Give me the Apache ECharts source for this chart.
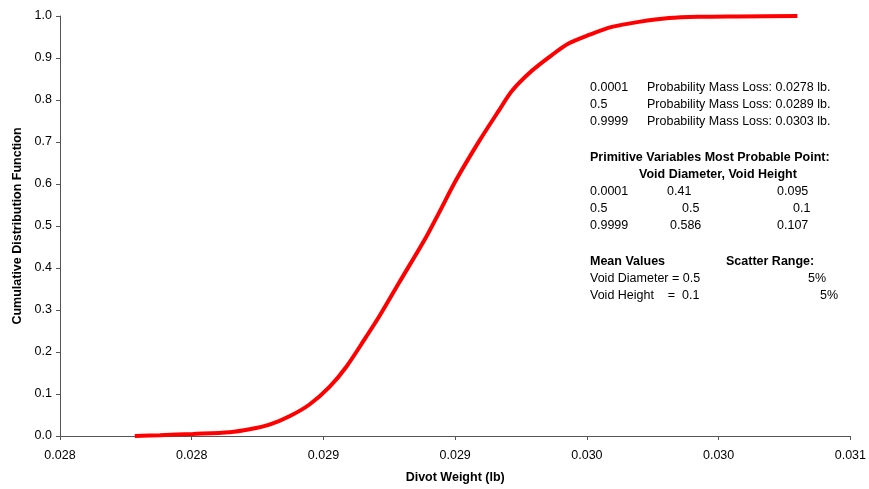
<!DOCTYPE html>
<html>
<head>
<meta charset="utf-8">
<script src="https://cdn.jsdelivr.net/npm/echarts@6/dist/echarts.min.js"></script>
<style>
  html, body { margin: 0; padding: 0; background: #fff; }
  #chart { width: 869px; height: 489px; }
</style>
</head>
<body>
<div id="chart"></div>
<script>
// Cumulative distribution of divot weight (lb)
const divotWeight = [
  0.028284, 0.028379, 0.028504, 0.028644, 0.028720, 0.028795, 0.028871,
  0.028947, 0.029023, 0.029087, 0.029163, 0.029212, 0.029288, 0.029390,
  0.029439, 0.029504, 0.029591, 0.029667, 0.029716, 0.029792, 0.029867,
  0.029932, 0.030008, 0.030095, 0.030197, 0.030311, 0.030424, 0.030576,
  0.030799
];
const cdf = [
  0.000, 0.002, 0.005, 0.009, 0.016, 0.027, 0.047,
  0.075, 0.117, 0.165, 0.237, 0.285, 0.366, 0.474,
  0.532, 0.610, 0.702, 0.776, 0.822, 0.870, 0.907,
  0.935, 0.955, 0.974, 0.986, 0.995, 0.998, 0.999,
  1.000
];

// Axis tick labels (three-decimal display of half-thousandth steps)
const xTickLabels = ['0.028', '0.028', '0.029', '0.029', '0.030', '0.030', '0.031'];
const xMin = 0.0280, xMax = 0.0310, xStep = 0.0005;

// Annotation text
const massLossLevels = ['0.0001', '0.5', '0.9999'];
const massLossText = [
  'Probability Mass Loss: 0.0278 lb.',
  'Probability Mass Loss: 0.0289 lb.',
  'Probability Mass Loss: 0.0303 lb.'
];
const mppTitle = 'Primitive Variables Most Probable Point:';
const mppSubtitle = 'Void Diameter, Void Height';
const mppLevels = ['0.0001', '0.5', '0.9999'];
const mppDiameter = ['0.41', '0.5', '0.586'];
const mppHeight = ['0.095', '0.1', '0.107'];
const meanTitle = 'Mean Values';
const scatterTitle = 'Scatter Range:';
const meanLines = ['Void Diameter = 0.5', 'Void Height    =  0.1'];
const scatterValues = ['5%', '5%'];

const FONT = '"Liberation Sans", Arial, sans-serif';
const FS = 12.5;
const chart = echarts.init(document.getElementById('chart'), null, { renderer: 'canvas' });

function txt(x, y, text, bold) {
  return {
    type: 'text', x: x, y: y,
    style: {
      text: text, font: (bold ? 'bold ' : '') + FS + 'px ' + FONT,
      fill: '#000', verticalAlign: 'middle', align: 'left'
    }
  };
}

const graphics = [];
massLossLevels.forEach((lv, i) => {
  graphics.push(txt(590, 88 + i * 17, lv));
  graphics.push(txt(647, 88 + i * 17, massLossText[i]));
});
graphics.push(txt(590, 158, mppTitle, true));
graphics.push(txt(639, 175, mppSubtitle, true));
const diaX = [667, 682, 670], hgtX = [777, 793, 777];
mppLevels.forEach((lv, i) => {
  graphics.push(txt(590, 192 + i * 17, lv));
  graphics.push(txt(diaX[i], 192 + i * 17, mppDiameter[i]));
  graphics.push(txt(hgtX[i], 192 + i * 17, mppHeight[i]));
});
graphics.push(txt(590, 262, meanTitle, true));
graphics.push(txt(726, 262, scatterTitle, true));
const scX = [808, 820];
meanLines.forEach((ln, i) => {
  graphics.push(txt(590, 279 + i * 17, ln));
  graphics.push(txt(scX[i], 279 + i * 17, scatterValues[i]));
});

chart.setOption({
  animation: false,
  backgroundColor: '#fff',
  grid: { left: 60, right: 17, top: 16, bottom: 52.5, containLabel: false },
  xAxis: {
    type: 'value', min: xMin, max: xMax, interval: xStep,
    name: 'Divot Weight (lb)', nameLocation: 'middle', nameGap: 35,
    nameTextStyle: { fontFamily: FONT, fontSize: FS, fontWeight: 'bold', color: '#000' },
    axisLine: { show: true, onZero: false, lineStyle: { color: '#555', width: 1 } },
    axisTick: { show: true, length: 4, lineStyle: { color: '#555' } },
    axisLabel: {
      fontFamily: FONT, fontSize: FS, color: '#000', margin: 13,
      formatter: v => xTickLabels[Math.round((v - xMin) / xStep)] || ''
    },
    splitLine: { show: false }
  },
  yAxis: {
    type: 'value', min: 0, max: 1, interval: 0.1,
    name: 'Cumulative Distribution Function', nameLocation: 'middle', nameGap: 36,
    nameTextStyle: { fontFamily: FONT, fontSize: FS, fontWeight: 'bold', color: '#000' },
    axisLine: { show: true, lineStyle: { color: '#555', width: 1 } },
    axisTick: { show: true, length: 4, lineStyle: { color: '#555' } },
    axisLabel: {
      fontFamily: FONT, fontSize: FS, color: '#000', margin: 8,
      formatter: v => v.toFixed(1)
    },
    splitLine: { show: false }
  },
  series: [{
    type: 'line',
    data: divotWeight.map((x, i) => [x, cdf[i]]),
    smooth: 0.3,
    showSymbol: false,
    lineStyle: { color: '#ff0000', width: 4 },
    clip: false
  }],
  graphic: graphics
});
</script>
</body>
</html>
